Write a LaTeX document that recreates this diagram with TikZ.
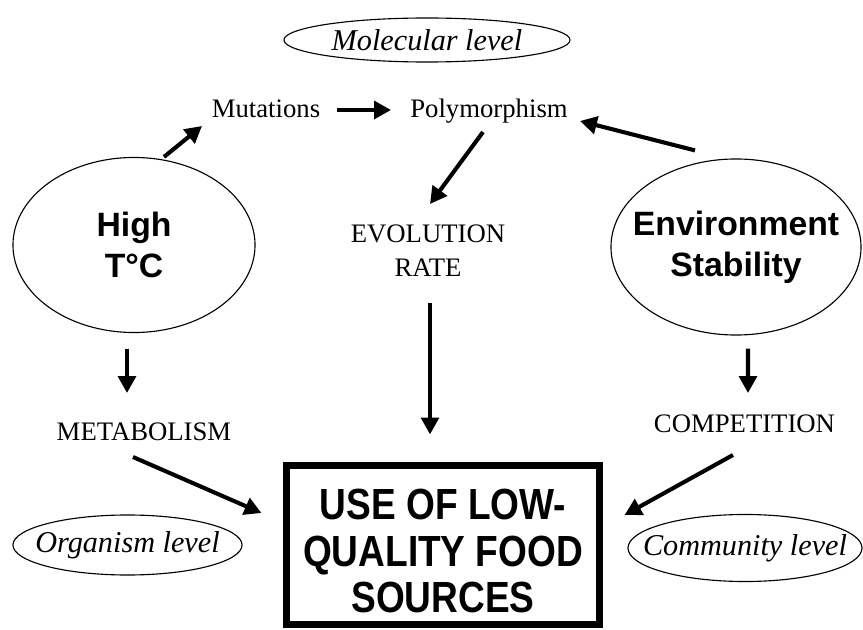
\documentclass[tikz,border=0pt]{standalone}
\usepackage{fontspec}
\setmainfont{Liberation Serif}
\newfontfamily\headfont{Liberation Sans}
\newfontfamily\boxfont[FakeStretch=0.85]{Liberation Sans}
\usetikzlibrary{arrows.meta}
\usetikzlibrary{calc}
\usetikzlibrary{positioning}
\usetikzlibrary{shapes.geometric}
\tikzstyle{arrow} = [line width=2.9pt,-{Triangle[length=12pt,width=12.5pt]}]
\tikzstyle{level} = [draw, ellipse, line width=0.8pt, inner sep=0pt, font=\fontsize{21.5}{24}\selectfont\itshape]
\tikzstyle{factor} = [draw, ellipse, line width=0.8pt, inner sep=0pt, align=center, font=\headfont\bfseries\fontsize{24}{29}\selectfont]
\tikzstyle{term} = [inner sep=0pt, anchor=base, font=\fontsize{19}{22}\selectfont]
% text that does not widen its ellipse
\newcommand{\nowidth}[1]{\makebox[0pt]{#1}}

\begin{document}
\begin{tikzpicture}[x=0.025cm, y=-0.025cm]
\useasboundingbox (0,0) rectangle (863,630);
% levels
\node [level, minimum width=71.5mm, minimum height=11mm] (mol) at (427,40) {\nowidth{Molecular level}};
\node [level, minimum width=57.25mm, minimum height=15mm] (organism) at (127.5,545) {\nowidth{Organism level}};
\node [level, minimum width=58.5mm, minimum height=16.75mm] (community) at (745,548) {\nowidth{Community level}};
% factors
\node [factor, minimum width=60.5mm, minimum height=43.75mm] (high) at (134,245) {\nowidth{High}\\\nowidth{T°C}};
\node [factor, minimum width=62.5mm, minimum height=44mm] (env) at (736,247) {\nowidth{Environment}\\\nowidth{Stability}};
% terms
\node [term] (mut) at (266,118) {Mutations};
\node [term] (poly) at (489,118) {Polymorphism};
\node [inner sep=0pt, align=center, font=\fontsize{19}{24}\selectfont] (evol) at (428,251) {EVOLUTION\\RATE};
\node [term] (metab) at (144,440) {METABOLISM};
\node [term] (comp) at (744.5,432) {COMPETITION};
% result
\node [draw, line width=5pt, inner sep=0pt, align=center, minimum width=78.25mm, minimum height=39.75mm,
  font=\boxfont\bfseries\fontsize{31}{33}\selectfont] (food) at (443,545)
  {\rule{0pt}{30.7pt}USE OF LOW-\\QUALITY FOOD\\SOURCES};

\draw [arrow] ($(high.north)+(30,0)$) -- ($(mut.base)+(-64,8)$);
\draw [arrow] ($(mut.base)+(71,-8)$) -- ($(poly.base)+(-98,-8)$);
\draw [arrow] ($(env.north)+(-41,-8)$) -- ($(poly.base)+(91,3)$);
\draw [arrow] ($(poly.base)+(-6,14)$) -- ($(evol.north)+(2,-21)$);
\draw [arrow] ($(high.south)+(-7,15.5)$) -- ($(metab.base)+(-17,-47)$);
\draw [arrow] ($(evol.south)+(2,26)$) -- ($(food.north)+(-13,-27.5)$);
\draw [arrow] ($(env.south)+(12,13)$) -- ($(comp.base)+(3.5,-39)$);
\draw [arrow] ($(metab.base)+(-11,17)$) -- ($(food.west)+(-21.5,-32)$);
\draw [arrow] ($(comp.base)+(-11.5,23)$) -- ($(food.east)+(21.5,-30)$);
\end{tikzpicture}
\end{document}
